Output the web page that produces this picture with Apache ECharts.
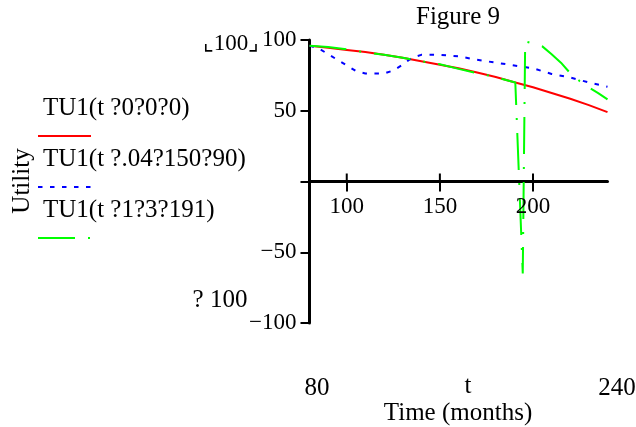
<!DOCTYPE html>
<html>
<head>
<meta charset="utf-8">
<script src="https://cdn.jsdelivr.net/npm/echarts@6/dist/echarts.min.js"></script>
<style>
html,body{margin:0;padding:0;background:#fff;}
#c{width:636px;height:427px;}
</style>
</head>
<body>
<div id="c"></div>
<script>
// ---- data ----
const xTickValues = [100, 150, 200];
const yTickValues = [-100, -50, 0, 50, 100];
const yLabelValues = [-100, -50, 50, 100];

const redT = [80, 90, 100, 110, 120, 130, 140, 150, 160, 170, 180, 190, 200, 210, 220, 230, 240];
const redU = [96, 94.5, 93, 91.5, 89.5, 87.5, 85, 82.5, 80, 77, 73.8, 70.2, 66.6, 62.6, 58.5, 54, 49];

const blueT = [80, 85, 90, 95, 100, 105, 110, 120, 125, 130, 135, 140, 150, 160, 170, 180, 190, 200, 210, 220, 230, 240];
const blueU = [96, 94, 90, 86, 82, 78, 76.3, 76.3, 78.5, 82.5, 87.5, 89.5, 89.5, 88.5, 86, 84, 82, 80, 76, 73.5, 70, 67];

const greenT = [80, 90, 100, 110, 120, 130, 140, 150, 160, 170, 180, 186, 190.5, 194.5, 195.8, 200, 205, 210, 215, 220, 225, 230, 235, 240];
const greenU = [96, 95, 93.5, 91.2, 89.5, 87.5, 85, 82.8, 79.6, 76.6, 73.8, 71.5, 70, -65, 99, 97.5, 95.5, 90, 84, 76.5, 71, 66.5, 62.5, 58];

const legendLabels = ['TU1(t ?0?0?0)', 'TU1(t ?.04?150?90)', 'TU1(t ?1?3?191)'];
const seriesColors = ['#ff0000', '#0000ff', '#00ff00'];

function pairs(t, u) { return t.map((v, i) => [v, u[i]]); }

const FONT = 'Liberation Serif';
const chart = echarts.init(document.getElementById('c'), null, {renderer: 'canvas'});

const txt = (text, x, y, size, align, vAlign) => ({
  type: 'text', x: x, y: y,
  style: {text: text, fontFamily: FONT, fontSize: size, fill: '#000', textAlign: align || 'center', textVerticalAlign: vAlign || 'middle'}
});

const legendY = [108, 159, 210];
const lineY = [136, 187, 238];
const dashes = [null, [4.5, 7.5], [37, 13, 2, 13]];

const graphics = [
  txt('Figure 9', 458, 17, 25),
  txt('\u231E100\u231F', 231, 44, 23),
  txt('? 100', 220, 300, 25),
  txt('80', 317, 388, 25),
  txt('t', 468, 386, 25),
  txt('240', 617, 388, 25),
  txt('Time (months)', 458, 413, 25),
  {type: 'text', x: 22, y: 181, rotation: Math.PI / 2,
   style: {text: 'Utility', fontFamily: FONT, fontSize: 25, fill: '#000', textAlign: 'center', textVerticalAlign: 'middle'}}
];
legendLabels.forEach((l, i) => {
  graphics.push(txt(l, 43, legendY[i], 25, 'left'));
  graphics.push({type: 'line', shape: {x1: 38, y1: lineY[i], x2: 91, y2: lineY[i]},
    style: {stroke: seriesColors[i], lineWidth: 2, lineDash: dashes[i]}});
});

const axisFont = {fontFamily: FONT, fontSize: 23, color: '#000'};

chart.setOption({
  animation: false,
  backgroundColor: '#fff',
  grid: {left: 309.5, right: 28.5, top: 40, bottom: 104, containLabel: false},
  xAxis: {
    type: 'value', min: 80, max: 240, position: 'bottom',
    axisLine: {onZero: true, lineStyle: {color: '#000', width: 3}},
    axisTick: {show: true, customValues: xTickValues, length: 10, lineStyle: {color: '#000', width: 2}},
    axisLabel: {show: false},
    splitLine: {show: false}
  },
  yAxis: {
    type: 'value', min: -100, max: 100, interval: 50, position: 'left',
    axisLine: {onZero: false, lineStyle: {color: '#000', width: 3}},
    axisTick: {show: true, customValues: yTickValues, length: 9, lineStyle: {color: '#000', width: 2}},
    axisLabel: Object.assign({customValues: yLabelValues, margin: 13,
      formatter: v => (v < 0 ? '\u2212' + Math.abs(v) : String(v))}, axisFont),
    splitLine: {show: false}
  },
  series: [
    {type: 'line', name: legendLabels[0], data: pairs(redT, redU), showSymbol: false, symbol: 'none',
     lineStyle: {color: seriesColors[0], width: 2}, z: 2},
    {type: 'line', name: legendLabels[1], data: pairs(blueT, blueU), showSymbol: false, symbol: 'none',
     lineStyle: {color: seriesColors[1], width: 2, type: [4.5, 7.5]}, z: 3},
    {type: 'line', name: legendLabels[2], data: pairs(greenT, greenU), showSymbol: false, symbol: 'none',
     lineStyle: {color: seriesColors[2], width: 2, type: [37, 13, 2, 13]}, z: 4}
  ],
  graphic: graphics
});

// x-axis ticks cross the axis line and their labels sit just under the zero line
const extra = [];
xTickValues.forEach(v => {
  const p = chart.convertToPixel({gridIndex: 0}, [v, 0]);
  extra.push({type: 'line', shape: {x1: p[0], y1: p[1], x2: p[0], y2: p[1] - 8},
              style: {stroke: '#000', lineWidth: 2}, z: 10});
  extra.push(Object.assign(txt(String(v), p[0], p[1] + 25, 23, 'center'), {z: 10}));
});
chart.setOption({graphic: graphics.concat(extra)});
</script>
</body>
</html>
